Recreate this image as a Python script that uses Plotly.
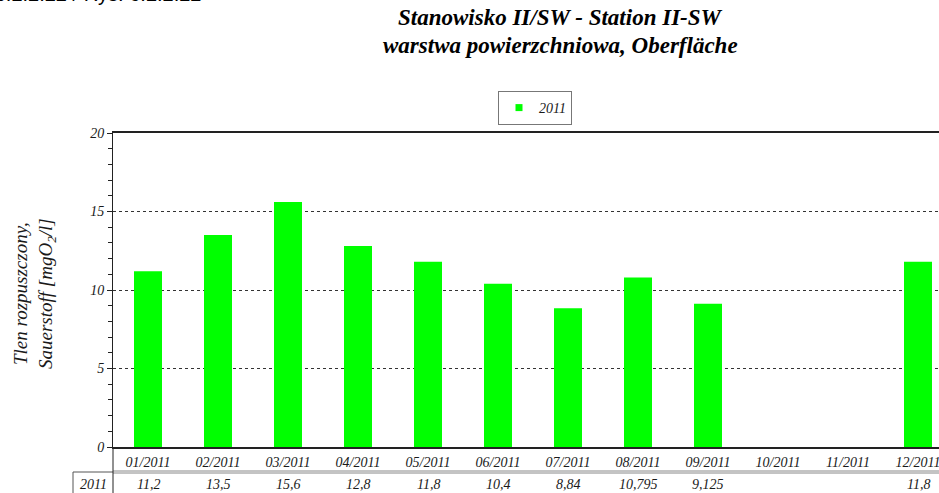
import plotly.graph_objects as go

# ---- data ----
months = ["01/2011", "02/2011", "03/2011", "04/2011", "05/2011", "06/2011",
          "07/2011", "08/2011", "09/2011", "10/2011", "11/2011", "12/2011"]
values_2011 = [11.2, 13.5, 15.6, 12.8, 11.8, 10.4, 8.84, 10.795, 9.125, None, None, 11.8]
series_name = "2011"
y_ticks = [0, 5, 10, 15, 20]

W, H = 939, 493
L, R_EDGE, T, B = 113, 939, 133, 447   # plot-area pixel edges

def px(x):
    return (x - L) / (R_EDGE - L)

def py(y):
    return (B - y) / (B - T)

serif = "Liberation Serif, Times New Roman, serif"
txt = "#1a1a1a"

fig = go.Figure()
fig.add_trace(go.Bar(
    x=months, y=values_2011, name=series_name, showlegend=False,
    marker=dict(color="#00ff00", line=dict(width=0)),
    width=0.4,
))
# legend entry with small square symbol
fig.add_trace(go.Scatter(
    x=[None], y=[None], mode="markers", name=series_name,
    marker=dict(symbol="square", size=7, color="#00ff00"),
))

fig.update_layout(
    width=W, height=H,
    margin=dict(l=L, r=W - R_EDGE, t=T, b=H - B, pad=0),
    paper_bgcolor="white", plot_bgcolor="white",
    showlegend=True,
    legend=dict(
        x=px(535), y=py(91), xanchor="center", yanchor="top",
        bordercolor="#777777", borderwidth=1, bgcolor="white",
        font=dict(family=serif, size=14, color=txt, style="italic"),
        itemwidth=30,
    ),
    bargap=0.6,
)

fig.update_xaxes(
    type="category", range=[-0.5, 11.3],
    showline=True, linecolor="#222222", linewidth=1.5, mirror=True,
    showgrid=False, ticks="", ticklabelstandoff=1,
    tickfont=dict(family=serif, size=14, color=txt, style="italic"),
)
fig.update_yaxes(
    range=[0, 20], tickvals=y_ticks,
    showline=True, linecolor="#222222", linewidth=1,
    ticks="outside", ticklen=5, tickcolor="#222222",
    minor=dict(dtick=1, ticks="outside", ticklen=4, tickcolor="#222222", showgrid=False),
    showgrid=True, gridcolor="#333333", gridwidth=1, griddash="dot",
    zeroline=False,
    tickfont=dict(family=serif, size=14, color=txt, style="italic"),
)

ann = []
# title
ann.append(dict(text="<b><i>Stanowisko II/SW - Station II-SW</i></b>", x=px(560), y=py(18),
                xref="paper", yref="paper", showarrow=False, xanchor="center", yanchor="middle",
                font=dict(family=serif, size=23, color="#000")))
ann.append(dict(text="<b><i>warstwa powierzchniowa, Oberfläche</i></b>", x=px(560), y=py(45),
                xref="paper", yref="paper", showarrow=False, xanchor="center", yanchor="middle",
                font=dict(family=serif, size=23, color="#000")))
# top-left cropped figure label
ann.append(dict(text="Abb. 6.2.2.22 / Rys. 6.2.2.22", x=px(204), y=py(7),
                xref="paper", yref="paper", showarrow=False, xanchor="right", yanchor="bottom",
                font=dict(family="Liberation Sans, Arial, sans-serif", size=20, color="#000")))
# y axis title
ann.append(dict(text="<i>Tlen rozpuszczony,<br>Sauerstoff [mgO<sub>2</sub>/l]</i>",
                x=px(34), y=py(294), xref="paper", yref="paper", showarrow=False,
                textangle=-90, xanchor="center", yanchor="middle",
                font=dict(family=serif, size=19, color=txt)))
# data table row
ann.append(dict(text="<i>" + series_name + "</i>", x=px(93), y=py(484), xref="paper", yref="paper",
                showarrow=False, xanchor="center", yanchor="middle",
                font=dict(family=serif, size=14, color=txt)))
for m, v in zip(months, values_2011):
    if v is None:
        continue
    ann.append(dict(text="<i>" + f"{v:g}".replace(".", ",") + "</i>", x=m, y=py(484),
                    xref="x", yref="paper", showarrow=False, xanchor="center", yanchor="middle",
                    font=dict(family=serif, size=14, color=txt)))
fig.update_layout(annotations=ann)

shapes = [
    dict(type="line", xref="paper", yref="paper", x0=0, x1=1, y0=py(471), y1=py(471),
         line=dict(color="#888888", width=1)),
    dict(type="line", xref="paper", yref="paper", x0=0, x1=1, y0=py(473), y1=py(473),
         line=dict(color="#888888", width=1)),
    dict(type="line", xref="paper", yref="paper", x0=px(73), x1=0, y0=py(472), y1=py(472),
         line=dict(color="#555555", width=1)),
    dict(type="line", xref="paper", yref="paper", x0=px(73), x1=px(73), y0=py(472), y1=py(500),
         line=dict(color="#555555", width=1)),
    dict(type="line", xref="paper", yref="paper", x0=0, x1=0, y0=0, y1=py(500),
         line=dict(color="#222222", width=1)),
]
fig.update_layout(shapes=shapes)

fig.write_html("out.html", config={"displayModeBar": False},
               post_script="document.body.style.margin='0px';document.body.style.overflow='hidden';")
